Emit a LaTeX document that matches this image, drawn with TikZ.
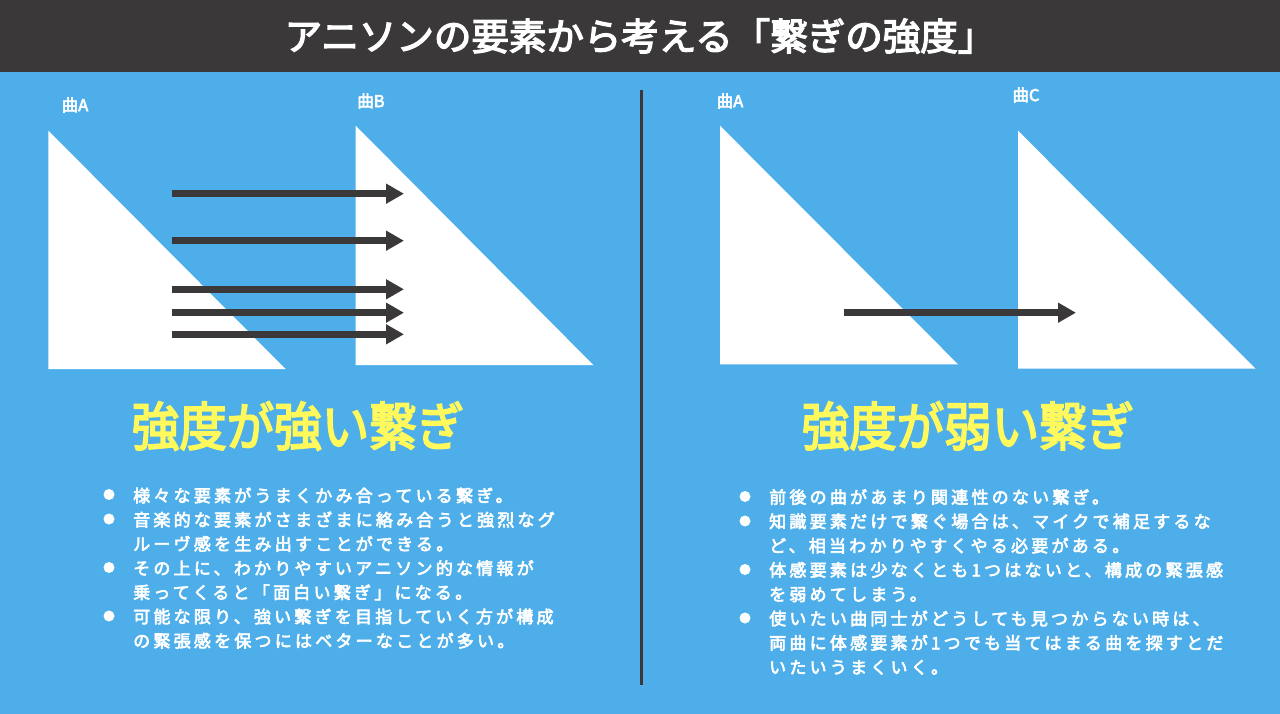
\documentclass[tikz,border=0pt]{standalone}
\usepackage{fontspec}
\usetikzlibrary{arrows.meta}
\newfontfamily\jpb{Noto Sans CJK JP}[FakeBold=3.5,LetterSpace=19]
\newfontfamily\jpbb{Noto Sans CJK JP}[FakeBold=3.5]
\definecolor{bgblue}{HTML}{4DAEEA}
\definecolor{darkbar}{HTML}{3A3839}
\definecolor{hlyellow}{HTML}{FFF95B}
\tikzset{
  txtline/.style={anchor=west, inner sep=0pt, text=white, font=\jpb\fontsize{17}{24}\selectfont, text height=15pt, text depth=2pt},
  dot/.style={circle, fill=white, inner sep=0pt, minimum size=11pt},
  arr/.style={draw=darkbar, line width=7pt, -{Triangle[length=18pt,width=19pt]}},
  song/.style={inner sep=0pt, text=white, font=\jpbb\fontsize{16.5}{16.5}\selectfont},
  heading/.style={inner sep=0pt, text=hlyellow, font=\jpbb\fontsize{47.5}{47.5}\selectfont},
  tri/.style={fill=white}
}
\begin{document}
\begin{tikzpicture}[x=1pt,y=-1pt]
\useasboundingbox (0,0) rectangle (1280,714);
\fill[bgblue] (0,0) rectangle (1280,714);
\fill[darkbar] (0,0) rectangle (1280,72);
\node[inner sep=0pt, text=white, font=\jpbb\fontsize{37.5}{37.5}\selectfont] (title) at (640,36) {アニソンの要素から考える「繋ぎの強度」};

% divider
\coordinate (dtop) at (641,90);
\coordinate (dbot) at (641,685);
\draw[darkbar, line width=3pt] (dtop) -- (dbot);

% triangles
\fill[tri] (48.4,130.7) -- (48.4,369) -- (285.6,369) -- cycle;
\fill[tri] (355.7,125.7) -- (355.7,365) -- (593.3,365) -- cycle;
\fill[tri] (720,125.7) -- (720,364.3) -- (958,364.3) -- cycle;
\fill[tri] (1018,130.7) -- (1018,368.7) -- (1255.5,368.7) -- cycle;

% song labels
\node[song] (sA1) at (75,105) {曲A};
\node[song] (sB) at (371,101) {曲B};
\node[song] (sA2) at (730,101) {曲A};
\node[song] (sC) at (1026,95) {曲C};

% arrows left
\foreach \i/\y in {1/193.7,2/240.7,3/289.3,4/312.7,5/334.3}{
  \coordinate (t\i) at (171.6,\y);
  \coordinate (h\i) at (404,\y);
  \draw[arr] (t\i) -- (h\i);
}
\coordinate (tr) at (844,312.7);
\coordinate (hr) at (1076,312.7);
\draw[arr] (tr) -- (hr);

% headings
\node[heading] (hl) at (298,426) {\scalebox{1}[1.1]{強度が強い繋ぎ}};
\node[heading] (hr2) at (968,426) {\scalebox{1}[1.1]{強度が弱い繋ぎ}};

% left bullets
\node[dot] (bl1) at (109,494.5) {};
\node[dot] (bl2) at (109,519) {};
\node[dot] (bl3) at (109,567.5) {};
\node[dot] (bl4) at (109,616) {};
\node[txtline] (l1) at (133,495.5) {様々な要素がうまくかみ合っている繋ぎ。};
\node[txtline] (l2) at (133,519.7) {音楽的な要素がさまざまに絡み合うと強烈なグ};
\node[txtline] (l3) at (133,543.9) {ルーヴ感を生み出すことができる。};
\node[txtline] (l4) at (133,568.1) {その上に、わかりやすいアニソン的な情報が};
\node[txtline] (l5) at (133,592.3) {乗ってくると「面白い繋ぎ」になる。};
\node[txtline] (l6) at (133,616.5) {可能な限り、強い繋ぎを目指していく方が構成};
\node[txtline] (l7) at (133,640.7) {の緊張感を保つにはベターなことが多い。};

% right bullets
\node[dot] (br1) at (745,496.5) {};
\node[dot] (br2) at (745,521) {};
\node[dot] (br3) at (745,569.5) {};
\node[dot] (br4) at (745,618) {};
\node[txtline] (r1) at (769,497) {前後の曲があまり関連性のない繋ぎ。};
\node[txtline] (r2) at (769,521.3) {知識要素だけで繋ぐ場合は、マイクで補足するな};
\node[txtline] (r3) at (769,545.6) {ど、相当わかりやすくやる必要がある。};
\node[txtline] (r4) at (769,569.9) {体感要素は少なくとも1つはないと、構成の緊張感};
\node[txtline] (r5) at (769,594.2) {を弱めてしまう。};
\node[txtline] (r6) at (769,618.5) {使いたい曲同士がどうしても見つからない時は、};
\node[txtline] (r7) at (769,642.8) {両曲に体感要素が1つでも当てはまる曲を探すとだ};
\node[txtline] (r8) at (769,667.1) {いたいうまくいく。};
\end{tikzpicture}
\end{document}
